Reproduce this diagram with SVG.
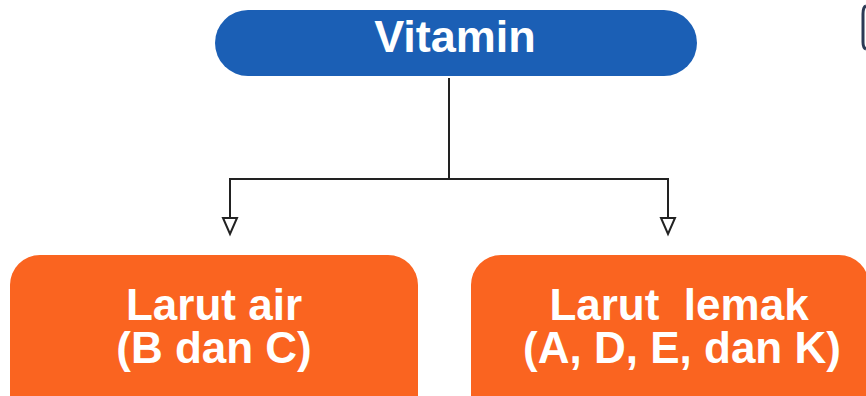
<svg xmlns="http://www.w3.org/2000/svg" width="866" height="396" viewBox="0 0 866 396">
<style>
.t{font-family:"Liberation Sans",Arial,sans-serif;font-weight:bold;fill:#ffffff;text-anchor:middle}
.ln{stroke:#222222;stroke-width:2;fill:none}
.ah{stroke:#222222;stroke-width:2;fill:#ffffff;stroke-linejoin:miter}
.or{fill:#fa6420}
</style>
<rect width="866" height="396" fill="#ffffff"/>
<g id="connectors">
<path class="ln" d="M449,78 V179 M230,179 H668 M230,178 V219 M668,178 V219"/>
<polygon class="ah" points="223,218 237,218 230,234"/>
<polygon class="ah" points="661,218 675,218 668,234"/>
</g>
<g id="vitamin">
<rect x="215" y="10" width="482" height="66" rx="33" fill="#1b5fb5"/>
<text class="t" x="455" y="52" font-size="45">Vitamin</text>
</g>
<g id="larut-air">
<rect class="or" x="10" y="255" width="408" height="170" rx="30"/>
<text class="t" x="214" y="320" font-size="44">Larut air</text>
<text class="t" x="214" y="363" font-size="44">(B dan C)</text>
</g>
<g id="larut-lemak">
<rect class="or" x="471" y="255" width="398" height="170" rx="30"/>
<text class="t" x="679" y="320" font-size="44" xml:space="preserve">Larut  lemak</text>
<text class="t" x="682" y="363" font-size="44">(A, D, E, dan K)</text>
</g>
<g id="edge-shape">
<path d="M866,6 Q863,7 863,14 L863,42 Q863,48 866,49" fill="none" stroke="#2b3a55" stroke-width="3"/>
</g>
</svg>
